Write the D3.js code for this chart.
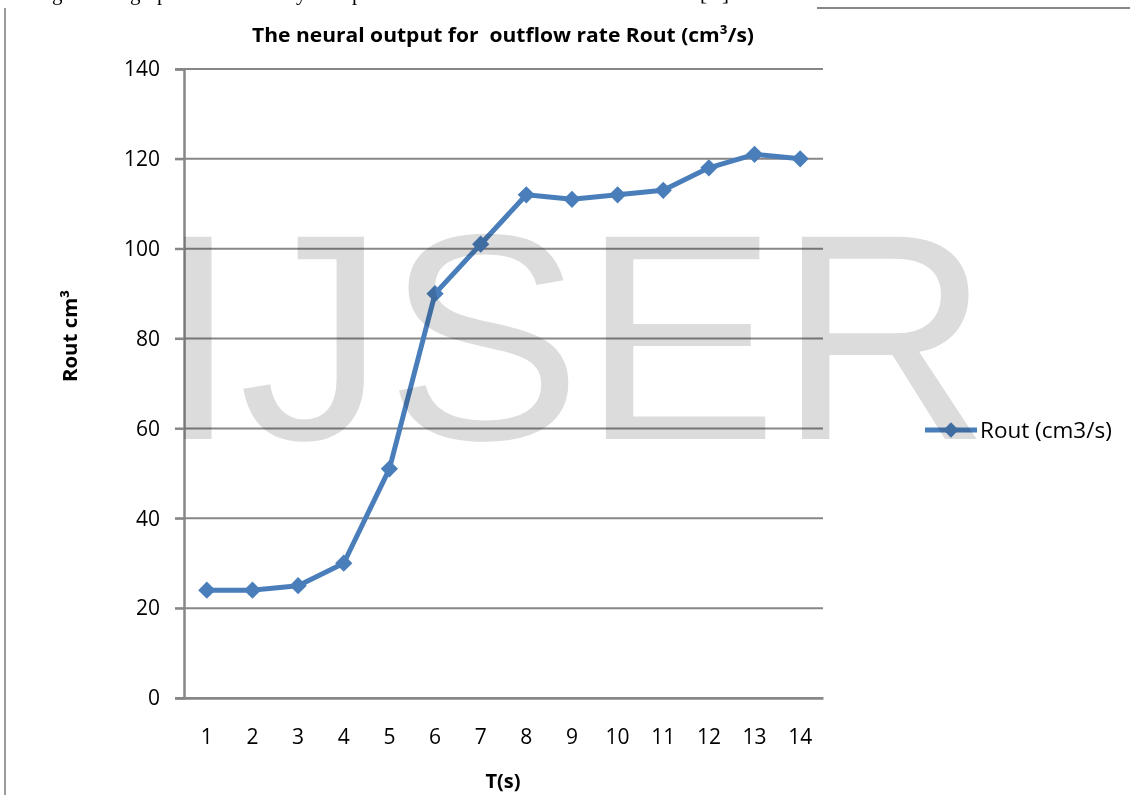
<!DOCTYPE html>
<html>
<head>
<meta charset="utf-8">
<script src="https://cdn.jsdelivr.net/npm/d3@7"></script>
<style>
  body { margin: 0; background: #fff; }
  svg { display: block; }
</style>
</head>
<body>
<div id="chart"></div>
<script>
// chart values
const times = [1, 2, 3, 4, 5, 6, 7, 8, 9, 10, 11, 12, 13, 14];
const routValues = [24, 24, 25, 30, 51, 90, 101, 112, 111, 112, 113, 118, 121, 120];
const yTicks = [0, 20, 40, 60, 80, 100, 120, 140];
const seriesName = "Rout (cm3/s)";

const W = 1130, H = 795;
const margin = { top: 69, right: 307, bottom: 97, left: 184 };
const blue = "#4a7ebb";
const gray = "#878787";
const tickFont = "'Open Sans', sans-serif";

const svg = d3.select("#chart").append("svg")
    .attr("width", W)
    .attr("height", H);

// page bits around the chart (cut-off line of text, frame lines)
const pageText = svg.append("g")
    .attr("font-family", "'Liberation Serif', serif")
    .attr("font-size", 21)
    .attr("fill", "#000");
[["g", 52], ["g", 130], ["p", 157], ["y", 296], ["p", 352], ["[", 700], ["]", 722]].forEach(([ch, x]) => {
    pageText.append("text").attr("x", x).attr("y", 0).text(ch);
});
svg.append("line").attr("x1", 5).attr("x2", 5).attr("y1", 8).attr("y2", H)
    .attr("stroke", "#9a9a9a").attr("stroke-width", 2);
svg.append("line").attr("x1", 817).attr("x2", W).attr("y1", 8).attr("y2", 8)
    .attr("stroke", gray).attr("stroke-width", 2);

const x = d3.scaleBand()
    .domain(times)
    .range([margin.left, W - margin.right])
    .padding(0);
const y = d3.scaleLinear()
    .domain([0, 140])
    .range([H - margin.bottom, margin.top]);
const cx = d => x(d) + x.bandwidth() / 2;

// gridlines
svg.append("g")
    .selectAll("line")
    .data(yTicks)
    .join("line")
    .attr("x1", margin.left - 9)
    .attr("x2", W - margin.right)
    .attr("y1", d => y(d))
    .attr("y2", d => y(d))
    .attr("stroke", gray)
    .attr("stroke-width", 2);

// y axis
const yAxis = svg.append("g")
    .attr("transform", `translate(${margin.left},0)`)
    .call(d3.axisLeft(y).tickValues(yTicks).tickSize(9).tickPadding(15));
yAxis.select(".domain").attr("stroke", gray).attr("stroke-width", 2.5);
yAxis.selectAll(".tick line").attr("stroke", gray).attr("stroke-width", 2);
yAxis.selectAll("text")
    .attr("font-family", tickFont)
    .attr("font-size", 21)
    .attr("fill", "#000");

// x axis (labels only)
const xAxis = svg.append("g")
    .attr("transform", `translate(0,${H - margin.bottom})`)
    .call(d3.axisBottom(x).tickSize(0).tickPadding(31));
xAxis.select(".domain").attr("stroke", gray).attr("stroke-width", 2.5);
xAxis.selectAll("text")
    .attr("font-family", tickFont)
    .attr("font-size", 21)
    .attr("fill", "#000");

// series line + markers
const line = d3.line()
    .x((d, i) => cx(times[i]))
    .y(d => y(d));
svg.append("path")
    .datum(routValues)
    .attr("d", line)
    .attr("fill", "none")
    .attr("stroke", blue)
    .attr("stroke-width", 5)
    .attr("stroke-linejoin", "round");

const diamond = d3.symbol().type(d3.symbolDiamond2).size(190);
svg.append("g")
    .selectAll("path")
    .data(routValues)
    .join("path")
    .attr("d", diamond)
    .attr("transform", (d, i) => `translate(${cx(times[i])},${y(d)})`)
    .attr("fill", blue);

// titles
svg.append("text")
    .attr("x", 503)
    .attr("y", 42)
    .attr("text-anchor", "middle")
    .attr("font-family", "'Open Sans', sans-serif")
    .attr("font-weight", "bold")
    .attr("font-size", 20)
    .attr("textLength", 502)
    .attr("lengthAdjust", "spacingAndGlyphs")
    .style("white-space", "pre")
    .text("The neural output for  outflow rate Rout (cm³/s)");

svg.append("text")
    .attr("x", 503)
    .attr("y", 788)
    .attr("text-anchor", "middle")
    .attr("font-family", "'Open Sans', sans-serif")
    .attr("font-weight", "bold")
    .attr("font-size", 20)
    .text("T(s)");

svg.append("text")
    .attr("transform", "translate(77,336) rotate(-90)")
    .attr("text-anchor", "middle")
    .attr("font-family", "'Open Sans', sans-serif")
    .attr("font-weight", "bold")
    .attr("font-size", 20)
    .attr("textLength", 92)
    .attr("lengthAdjust", "spacingAndGlyphs")
    .text("Rout cm³");

// legend
const legend = svg.append("g").attr("transform", "translate(925,430)");
legend.append("line")
    .attr("x1", 0).attr("x2", 52)
    .attr("stroke", blue).attr("stroke-width", 5);
legend.append("path")
    .attr("d", d3.symbol().type(d3.symbolDiamond2).size(150))
    .attr("transform", "translate(26,0)")
    .attr("fill", blue);
legend.append("text")
    .attr("x", 55)
    .attr("y", 8)
    .attr("font-family", tickFont)
    .attr("font-size", 22.5)
    .attr("fill", "#000")
    .text(seriesName);

// watermark laid over the chart
svg.append("text")
    .attr("x", 157)
    .attr("y", 439)
    .attr("font-family", "'Liberation Sans', Arial, sans-serif")
    .attr("font-size", 294)
    .attr("fill", "#dcdcdc")
    .style("mix-blend-mode", "multiply")
    .text("IJSER");
</script>
</body>
</html>
